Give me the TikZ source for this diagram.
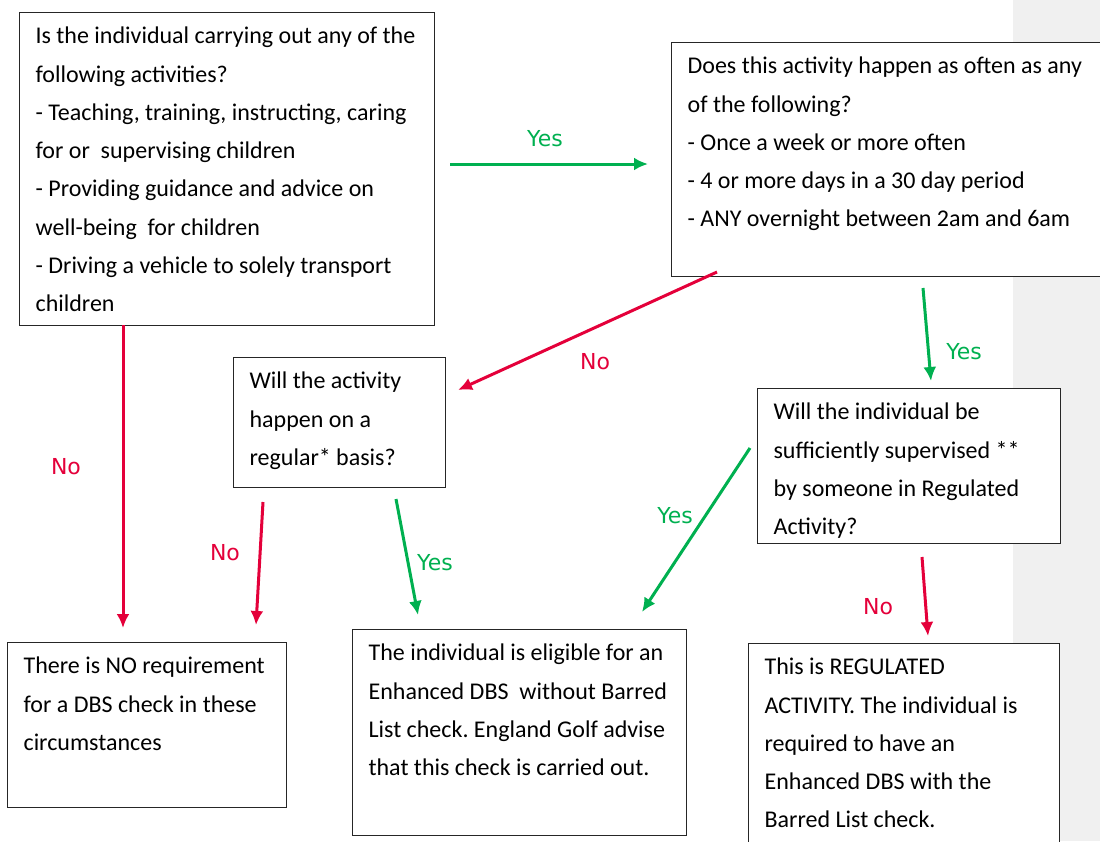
\documentclass[tikz,border=0pt]{standalone}
\usepackage{fontspec}
\setmainfont{Carlito}
\newfontfamily\lblfont{DejaVu Sans}
\usetikzlibrary{arrows.meta}
\definecolor{yesgreen}{RGB}{0,176,80}
\definecolor{nored}{RGB}{228,0,58}
\definecolor{sidegray}{RGB}{240,240,240}
\newcommand{\boxtext}[3]{\parbox[t][#2][t]{#1}{\frenchspacing\raggedright\leftskip=16pt #3}}

\begin{document}
\begin{tikzpicture}[x=1pt, y=-1pt,
		qbox/.style={draw=black!85, line width=1.2pt, fill=white, anchor=north west, inner xsep=0pt, inner ysep=14.5pt, font=\fontsize{24}{38.3}\selectfont},
		yesarrow/.style={draw=yesgreen, line width=3pt, -{Latex[length=14pt,width=13pt]}},
		noarrow/.style={draw=nored, line width=3pt, -{Latex[length=14pt,width=13pt]}},
		yeslabel/.style={text=yesgreen, inner sep=0pt, font=\lblfont\fontsize{22}{26}\selectfont},
		nolabel/.style={text=nored, inner sep=0pt, font=\lblfont\fontsize{22}{26}\selectfont}]
		%%%%% START %%%%%
		
		\useasboundingbox (0,0) rectangle (1100,841);
		\clip (0,0) rectangle (1100,841);
		\fill[sidegray] (1013,0) rectangle (1100,841);
		
		% questions
		\node[qbox] (q1) at (19,12) {\boxtext{415pt}{284pt}{Is the individual carrying out any of the\\following activities?\\- Teaching, training, instructing, caring\\for or~ supervising children\\- Providing guidance and advice on\\well-being~ for children\\- Driving a vehicle to solely transport\\children}};
		\node[qbox] (q2) at (671,42) {\boxtext{440pt}{205pt}{Does this activity happen as often as any\\of the following?\\- Once a week or more often\\- 4 or more days in a 30 day period\\- ANY overnight between 2am and 6am}};
		\node[qbox] (q3) at (233,357) {\boxtext{212pt}{101pt}{Will the activity\\happen on a\\regular* basis?}};
		\node[qbox] (q4) at (757,388) {\boxtext{303pt}{126pt}{Will the individual be\\sufficiently supervised **\\by someone in Regulated\\Activity?}};
		
		% outcomes
		\node[qbox] (r1) at (7,642) {\boxtext{279pt}{136pt}{There is NO requirement\\for a DBS check in these\\circumstances}};
		\node[qbox] (r2) at (352,629) {\boxtext{334pt}{177pt}{The individual is eligible for an\\Enhanced DBS~ without Barred\\List check. England Golf advise\\that this check is carried out.}};
		\node[qbox] (r3) at (748,643) {\boxtext{311pt}{180pt}{This is REGULATED\\ACTIVITY. The individual is\\required to have an\\Enhanced DBS with the\\Barred List check.}};
		
		% arrow ends
		\coordinate (a1s) at (450,164);
		\coordinate (a1e) at (648,164);
		\coordinate (a2s) at (717,272);
		\coordinate (a2e) at (458,390);
		\coordinate (a3s) at (923,288);
		\coordinate (a3e) at (931,381);
		\coordinate (a4s) at (123,325);
		\coordinate (a4e) at (123,628);
		\coordinate (a5s) at (263,502);
		\coordinate (a5e) at (256,625);
		\coordinate (a6s) at (396,499);
		\coordinate (a6e) at (418,615);
		\coordinate (a7s) at (750,448);
		\coordinate (a7e) at (642,612);
		\coordinate (a8s) at (922,557);
		\coordinate (a8e) at (928,636);
		
		\draw[yesarrow] (a1s) -- (a1e);
		\draw[noarrow] (a2s) -- (a2e);
		\draw[yesarrow] (a3s) -- (a3e);
		\draw[noarrow] (a4s) -- (a4e);
		\draw[noarrow] (a5s) -- (a5e);
		\draw[yesarrow] (a6s) -- (a6e);
		\draw[yesarrow] (a7s) -- (a7e);
		\draw[noarrow] (a8s) -- (a8e);
		
		% labels
		\node[yeslabel] (l1) at (545,139) {Yes};
		\node[nolabel] (l2) at (595,362) {No};
		\node[yeslabel] (l3) at (964,352) {Yes};
		\node[nolabel] (l4) at (66,467) {No};
		\node[nolabel] (l5) at (225,553) {No};
		\node[yeslabel] (l6) at (435,563) {Yes};
		\node[yeslabel] (l7) at (675,516) {Yes};
		\node[nolabel] (l8) at (878,607) {No};
		
		%%%%% END %%%%%
	\end{tikzpicture}
\end{document}
